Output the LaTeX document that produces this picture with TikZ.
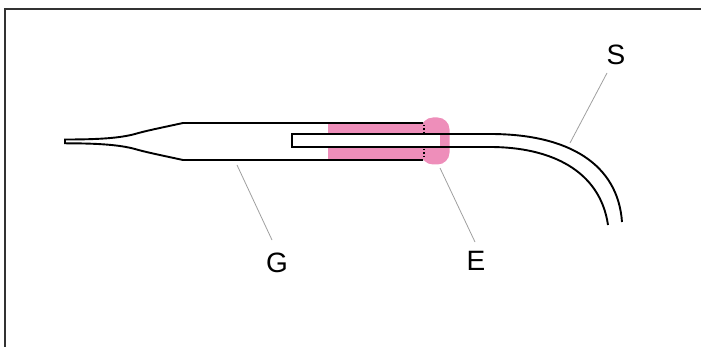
\documentclass[tikz,border=0pt]{standalone}
\usepackage{fontspec}
\setmainfont{Liberation Sans}
\definecolor{gluepink}{RGB}{238,142,186}
\definecolor{framegray}{RGB}{50,50,50}
\begin{document}
\begin{tikzpicture}[x=1pt,y=-1pt,
  outline/.style={draw=black,line width=1.9pt,line join=miter},
  leader/.style={draw=gray!75,line width=0.8pt},
  lab/.style={font=\fontsize{28}{30}\selectfont,inner sep=0pt}]
\useasboundingbox (0,0) rectangle (701,347);
% frame (top and left edges)
\draw[framegray,line width=2.2pt] (5,347) -- (5,9) -- (701,9);

% glue filling between glass and tube
\fill[gluepink] (328,123) rectangle (423,160);
% glue bead at the end of the glass
\fill[gluepink,rounded corners=12pt] (421,117.5) rectangle (449.5,164.5);

% glass capillary with drawn tip
\draw[outline] (423,123) -- (183,123)
  .. controls (160,128) and (145,131) .. (135,134)
  .. controls (120,138) and (100,139.5) .. (65,139.5)
  -- (65,143.3)
  .. controls (100,143.3) and (120,145) .. (135,149)
  .. controls (145,152) and (160,155) .. (183,160) -- (423,160);
% end of the glass hidden under the bead
\draw[black,line width=1.4pt,dotted] (424,125) -- (424,132.5);
\draw[black,line width=1.4pt,dotted] (424,149) -- (424,159);

% bent tube inserted into the glass
\fill[white] (292,134.5) rectangle (440,146.5);
\draw[outline] (622,222) .. controls (618,165) and (570,134) .. (490,134)
  -- (292,134) -- (292,147) -- (490,147)
  .. controls (550,147) and (600,170) .. (608,225);

% labels and leaders
\node[lab] (S) at (616,55) {S};
\node[lab] (G) at (277,263) {G};
\node[lab] (E) at (476,261) {E};
\coordinate (sS) at (570,143);
\coordinate (sG) at (237,165);
\coordinate (sE) at (440,168);
\draw[leader] (607,73) -- (sS);
\draw[leader] (272,240) -- (sG);
\draw[leader] (475,242) -- (sE);
\end{tikzpicture}
\end{document}
